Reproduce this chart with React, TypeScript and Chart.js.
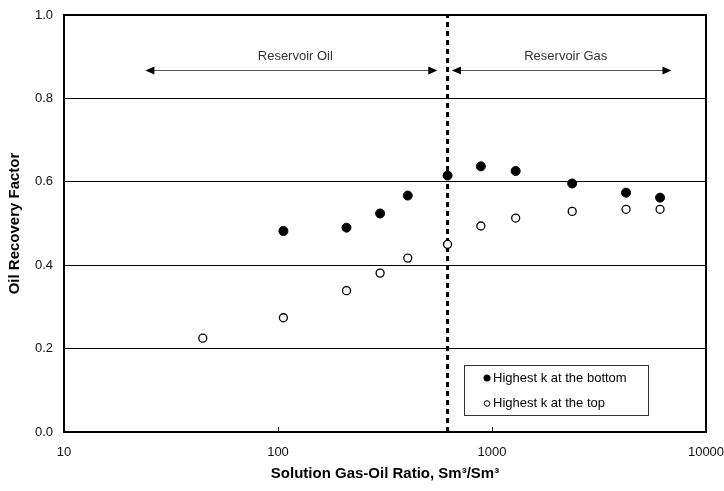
import { useEffect, useRef } from "react";
import { Chart, registerables } from "chart.js";

Chart.register(...registerables);

const FONT = "'Liberation Sans', Arial, Helvetica, sans-serif";

// Solution gas-oil ratio (Sm3/Sm3) and oil recovery factor for each case
const gorBottom = [106, 209, 300, 404, 620, 887, 1290, 2370, 4230, 6100];
const recoveryBottom = [0.482, 0.49, 0.524, 0.567, 0.615, 0.637, 0.626, 0.596, 0.574, 0.562];

const gorTop = [44.5, 106, 209, 300, 404, 620, 887, 1290, 2370, 4230, 6100];
const recoveryTop = [0.225, 0.274, 0.339, 0.381, 0.417, 0.45, 0.494, 0.513, 0.529, 0.534, 0.534];

// Boundary between reservoir oil and reservoir gas
const boundaryGor = 620;
const boundaryRange = [0, 1];

const xTickValues = [10, 100, 1000, 10000];
const yMin = 0;
const yMax = 1;
const yStep = 0.2;

const seriesLabels = ["Highest k at the bottom", "Highest k at the top"];
const regionLabels = ["Reservoir Oil", "Reservoir Gas"];
const regionSpans = [
  [24, 555],
  [650, 6900],
];
const regionLevel = 0.868;

const xTitle = "Solution Gas-Oil Ratio, Sm\u00b3/Sm\u00b3";
const yTitle = "Oil Recovery Factor";

function drawArrowHead(ctx: CanvasRenderingContext2D, x: number, y: number, dir: number) {
  ctx.beginPath();
  ctx.moveTo(x, y);
  ctx.lineTo(x - dir * 9, y - 4);
  ctx.lineTo(x - dir * 9, y + 4);
  ctx.closePath();
  ctx.fill();
}

const annotations = {
  id: "annotations",
  afterDatasetsDraw(chart: any) {
    const { ctx, chartArea, scales } = chart;
    const { left, right, top, bottom } = chartArea;
    const xs = scales.x;
    const ys = scales.y;
    ctx.save();

    // plot frame
    ctx.strokeStyle = "#000";
    ctx.lineWidth = 2;
    ctx.strokeRect(left, top, right - left, bottom - top);

    // inner tick marks on the x axis
    ctx.lineWidth = 1;
    xTickValues.slice(1, -1).forEach((v) => {
      const px = Math.round(xs.getPixelForValue(v)) + 0.5;
      ctx.beginPath();
      ctx.moveTo(px, bottom);
      ctx.lineTo(px, bottom - 5);
      ctx.stroke();
    });

    // region arrows and labels
    const ay = Math.round(ys.getPixelForValue(regionLevel)) + 0.5;
    regionSpans.forEach((span, i) => {
      const x0 = xs.getPixelForValue(span[0]);
      const x1 = xs.getPixelForValue(span[1]);
      ctx.strokeStyle = "#555";
      ctx.fillStyle = "#000";
      ctx.lineWidth = 1;
      ctx.beginPath();
      ctx.moveTo(x0 + 4, ay);
      ctx.lineTo(x1 - 4, ay);
      ctx.stroke();
      drawArrowHead(ctx, x0, ay, -1);
      drawArrowHead(ctx, x1, ay, 1);
      ctx.fillStyle = "#333";
      ctx.font = `13px ${FONT}`;
      ctx.textAlign = "center";
      ctx.textBaseline = "middle";
      ctx.fillText(regionLabels[i], (x0 + x1) / 2 + 4, ay - 14);
    });

    // legend box
    const bx = 464;
    const by = 365.5;
    const bw = 184;
    const bh = 50;
    ctx.fillStyle = "#fff";
    ctx.fillRect(bx, by, bw, bh);
    ctx.strokeStyle = "#333";
    ctx.lineWidth = 1;
    ctx.strokeRect(bx + 0.5, by, bw, bh);
    ctx.font = `13px ${FONT}`;
    ctx.textAlign = "left";
    ctx.textBaseline = "middle";
    const rows = [by + 12.5, by + 38];
    rows.forEach((ry, i) => {
      ctx.beginPath();
      ctx.arc(bx + 23, ry, i === 0 ? 3.5 : 2.8, 0, Math.PI * 2);
      if (i === 0) {
        ctx.fillStyle = "#000";
        ctx.fill();
      } else {
        ctx.fillStyle = "#fff";
        ctx.fill();
        ctx.strokeStyle = "#000";
        ctx.lineWidth = 1;
        ctx.stroke();
      }
      ctx.fillStyle = "#000";
      ctx.fillText(seriesLabels[i], bx + 29, ry);
    });

    ctx.restore();
  },
};

export default function App() {
  const canvasRef = useRef<HTMLCanvasElement | null>(null);

  useEffect(() => {
    if (!canvasRef.current) return;
    const chart = new Chart(canvasRef.current, {
      type: "scatter",
      data: {
        datasets: [
          {
            label: seriesLabels[0],
            data: gorBottom.map((x, i) => ({ x, y: recoveryBottom[i] })),
            backgroundColor: "#000",
            borderColor: "#000",
            pointRadius: 4.5,
            borderWidth: 1,
            order: 1,
          },
          {
            label: seriesLabels[1],
            data: gorTop.map((x, i) => ({ x, y: recoveryTop[i] })),
            backgroundColor: "#fff",
            borderColor: "#000",
            pointRadius: 4,
            borderWidth: 1.3,
            order: 2,
          },
          {
            label: "boundary",
            data: boundaryRange.map((y) => ({ x: boundaryGor, y })),
            showLine: true,
            borderColor: "#000",
            borderWidth: 3,
            borderDash: [5, 4],
            pointRadius: 0,
            order: 3,
          },
        ],
      },
      options: {
        responsive: false,
        animation: false,
        events: [],
        layout: { padding: { top: 15, right: 18, left: 0, bottom: 0 } },
        plugins: {
          legend: { display: false },
          tooltip: { enabled: false },
        },
        scales: {
          x: {
            type: "logarithmic",
            min: xTickValues[0],
            max: xTickValues[xTickValues.length - 1],
            afterBuildTicks: (scale: any) => {
              scale.ticks = xTickValues.map((value) => ({ value }));
            },
            afterFit: (scale: any) => {
              scale.height = 59;
              scale.paddingLeft = 0;
              scale.paddingRight = 0;
            },
            grid: { display: false, drawTicks: false },
            border: { display: false },
            ticks: {
              autoSkip: false,
              maxRotation: 0,
              padding: 13,
              color: "#111",
              font: { family: FONT, size: 13 },
              callback: (v: any) => String(v),
            },
            title: {
              display: true,
              text: xTitle,
              color: "#000",
              font: { family: FONT, size: 15, weight: "bold" },
              padding: { top: 0, bottom: 8 },
            },
          },
          y: {
            min: yMin,
            max: yMax,
            afterFit: (scale: any) => {
              scale.width = 64;
              scale.paddingTop = 0;
              scale.paddingBottom = 0;
            },
            grid: { color: "#000", lineWidth: 1, drawTicks: false },
            border: { display: false },
            ticks: {
              stepSize: yStep,
              padding: 11,
              color: "#111",
              font: { family: FONT, size: 13 },
              callback: (v: any) => Number(v).toFixed(1),
            },
            title: {
              display: true,
              text: yTitle,
              color: "#000",
              font: { family: FONT, size: 15, weight: "bold" },
              padding: { top: 6, bottom: 0 },
            },
          },
        },
      },
      plugins: [annotations],
    });
    return () => chart.destroy();
  }, []);

  return (
    <div style={{ position: "absolute", left: 0, top: 0, width: 724, height: 491, background: "#fff" }}>
      <canvas ref={canvasRef} width={724} height={491} />
    </div>
  );
}
